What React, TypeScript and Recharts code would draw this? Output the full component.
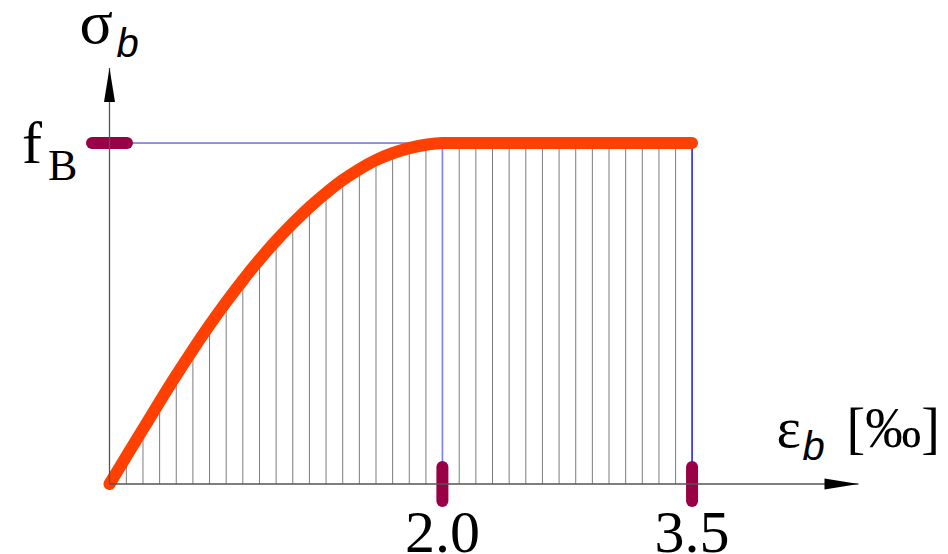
import { ComposedChart, Line, Bar, XAxis, YAxis, ReferenceLine, ReferenceDot } from 'recharts';

const strain = [
  0, 0.1, 0.2, 0.3, 0.4, 0.5, 0.6, 0.7, 0.8, 0.9, 1.0, 1.1, 1.2, 1.3, 1.4, 1.5, 1.6, 1.7,
  1.8, 1.9, 2.0, 2.1, 2.2, 2.3, 2.4, 2.5, 2.6, 2.7, 2.8, 2.9, 3.0, 3.1, 3.2, 3.3, 3.4, 3.5,
];
const stress = [
  0, 0.08, 0.16, 0.24, 0.318, 0.393, 0.465, 0.533, 0.597, 0.657, 0.713, 0.764, 0.811, 0.853,
  0.891, 0.923, 0.95, 0.97, 0.985, 0.995, 1, 1, 1, 1, 1, 1, 1, 1, 1, 1, 1, 1, 1, 1, 1, 1,
];
const xTicks = [2.0, 3.5];
const xTickLabels = ['2.0', '3.5'];
const fB = 1;

const data = strain.map((e, i) => ({ eps: e, sigma: stress[i] }));

const SERIF = '"Liberation Serif", "Times New Roman", serif';
const SANS = '"Liberation Sans", Arial, sans-serif';

const XTick = (props: any) => {
  const { x, y, payload } = props;
  const idx = xTicks.indexOf(payload.value);
  return (
    <text x={x} y={y + 60} textAnchor="middle" fontFamily={SERIF} fontSize={60} fill="#000">
      {xTickLabels[idx]}
    </text>
  );
};

const YTick = (props: any) => {
  const { y } = props;
  return (
    <g>
      <text x={14} y={y + 20} fontFamily={SERIF} fontSize={60} fill="#000">f</text>
      <text x={40} y={y + 37} fontFamily={SERIF} fontSize={44} fill="#000">B</text>
    </g>
  );
};

const YTitle = (props: any) => {
  const vb = props.viewBox;
  const x = vb.x + vb.width - 30;
  const y = vb.y - 25;
  return (
    <g>
      <text x={x} y={y} fontFamily={SERIF} fontSize={62} fill="#000">σ</text>
      <text x={x + 37} y={y + 14} fontFamily={SANS} fontStyle="italic" fontSize={40} fill="#000">b</text>
    </g>
  );
};

const XTitle = (props: any) => {
  const vb = props.viewBox;
  const x = vb.x + 667;
  const y = vb.y - 37;
  return (
    <g>
      <text x={x} y={y} fontFamily={SERIF} fontSize={58} fill="#000">ε</text>
      <text x={x + 26} y={y + 13} fontFamily={SANS} fontStyle="italic" fontSize={40} fill="#000">b</text>
      <text x={x + 70} y={y} fontFamily={SERIF} fontSize={56} fill="#000">[‰]</text>
    </g>
  );
};

const ArrowRight = (props: any) => {
  const { cx, cy } = props;
  return <polygon points={`${cx},${cy} ${cx - 34},${cy - 5.5} ${cx - 34},${cy + 5.5}`} fill="#000" />;
};

const ArrowUp = (props: any) => {
  const { cx, cy } = props;
  return <polygon points={`${cx},${cy} ${cx - 5.5},${cy + 34} ${cx + 5.5},${cy + 34}`} fill="#000" />;
};

export default function App() {
  return (
    <ComposedChart
      width={940}
      height={546}
      data={data}
      margin={{ top: 60, right: 89.5, left: 0, bottom: 0 }}
    >
      <XAxis
        dataKey="eps"
        type="number"
        domain={[0, 4.5]}
        ticks={xTicks}
        tickLine={false}
        axisLine={{ stroke: '#555', strokeWidth: 1.3 }}
        tick={<XTick />}
        height={70}
        label={{ content: <XTitle /> }}
      />
      <YAxis
        type="number"
        domain={[0, 1.22]}
        ticks={[fB]}
        tickLine={false}
        axisLine={{ stroke: '#555', strokeWidth: 1.3 }}
        tick={<YTick />}
        width={101.5}
        label={{ content: <YTitle /> }}
      />
      <Bar dataKey="sigma" barSize={1} fill="#7c7c7c" isAnimationActive={false} />
      <ReferenceLine
        segment={[{ x: 0, y: fB }, { x: 2.0, y: fB }]}
        stroke="#2828c8"
        strokeWidth={1}
      />
      <ReferenceLine
        segment={[{ x: 2.0, y: 0 }, { x: 2.0, y: fB }]}
        stroke="#8080ff"
        strokeWidth={1.6}
      />
      <ReferenceLine
        segment={[{ x: 3.5, y: 0 }, { x: 3.5, y: fB }]}
        stroke="#2020ff"
        strokeWidth={1.4}
      />
      <Line
        dataKey="sigma"
        type="monotone"
        stroke="#ff4000"
        strokeWidth={12}
        strokeLinecap="round"
        dot={false}
        isAnimationActive={false}
      />
      <ReferenceLine
        segment={[{ x: -0.105, y: fB }, { x: 0.105, y: fB }]}
        stroke="#990045"
        strokeWidth={12}
        strokeLinecap="round"
        ifOverflow="visible"
      />
      <ReferenceLine
        segment={[{ x: 2.0, y: -0.05 }, { x: 2.0, y: 0.05 }]}
        stroke="#990045"
        strokeWidth={12}
        strokeLinecap="round"
        ifOverflow="visible"
      />
      <ReferenceLine
        segment={[{ x: 3.5, y: -0.05 }, { x: 3.5, y: 0.05 }]}
        stroke="#990045"
        strokeWidth={12}
        strokeLinecap="round"
        ifOverflow="visible"
      />
      <ReferenceDot x={4.5} y={0} r={1} shape={<ArrowRight />} ifOverflow="visible" />
      <ReferenceDot x={0} y={1.22} r={1} shape={<ArrowUp />} ifOverflow="visible" />
    </ComposedChart>
  );
}
